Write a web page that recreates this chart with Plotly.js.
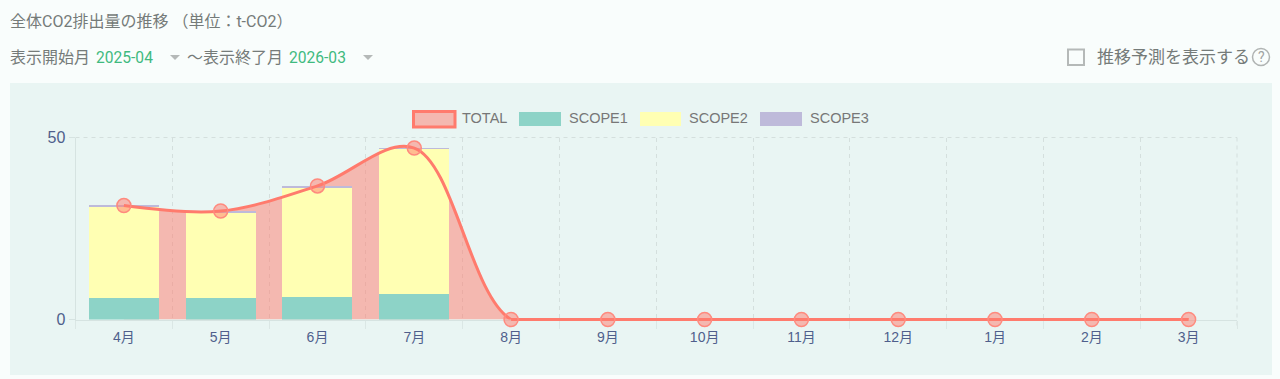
<!DOCTYPE html>
<html><head><meta charset="utf-8">
<script src="https://cdn.plot.ly/plotly-3.0.1.min.js"></script>
<style>html,body{margin:0;padding:0;background:#f9fdfc;overflow:hidden}#c{width:1280px;height:379px}</style>
</head><body><div id="c"></div>
<script>
const months = ['4月','5月','6月','7月','8月','9月','10月','11月','12月','1月','2月','3月'];
const total  = [31.3,29.8,36.7,47.1,0,0,0,0,0,0,0,0];
const scope1 = [5.9,5.8,6.3,6.9,0,0,0,0,0,0,0,0];
const scope2 = [24.9,23.5,29.8,39.9,0,0,0,0,0,0,0,0];
const scope3 = [0.6,0.6,0.7,0.3,0,0,0,0,0,0,0,0];
const legendNames = ['TOTAL','SCOPE1','SCOPE2','SCOPE3'];
const W=1280,H=379;
const px=x=>x/W, py=y=>1-y/H;
const CO='#ff7b6d', AREA='rgba(255,123,109,0.5)';
const C1='#8dd3c7',C2='#ffffb3',C3='#bebada';
const traces=[
 {x:months,y:total,type:'scatter',mode:'none',fill:'tozeroy',fillcolor:AREA,line:{shape:'spline',smoothing:1.0},xaxis:'x',yaxis:'y',name:'TOTAL area',showlegend:false,hoverinfo:'skip'},
 {x:months,y:scope1,type:'bar',marker:{color:C1},name:'SCOPE1',xaxis:'x2',yaxis:'y2',showlegend:false},
 {x:months,y:scope2,type:'bar',marker:{color:C2},name:'SCOPE2',xaxis:'x2',yaxis:'y2',showlegend:false},
 {x:months,y:scope3,type:'bar',marker:{color:C3},name:'SCOPE3',xaxis:'x2',yaxis:'y2',showlegend:false},
 {x:months,y:total,type:'scatter',mode:'lines',line:{shape:'spline',smoothing:1.0,color:CO,width:3},name:'TOTAL',xaxis:'x2',yaxis:'y2',showlegend:false},
 {x:months.slice(4),y:total.slice(4),type:'scatter',mode:'lines',line:{color:CO,width:3},name:'TOTAL flat',xaxis:'x3',yaxis:'y3',showlegend:false},
 {x:months,y:total,type:'scatter',mode:'markers',cliponaxis:false,marker:{size:14,color:'rgba(255,123,109,0.5)',line:{color:'#ff8a7e',width:1.5}},name:'TOTAL points',xaxis:'x3',yaxis:'y3',showlegend:false}
];
const dom=[px(75.5),px(1237)], domY=[py(319.5),py(137.5)];
const tickFont={family:"'Liberation Sans','Noto Sans CJK JP',sans-serif",size:14,color:'#4f5f8c'};
const yTickFont={family:"'Liberation Sans',sans-serif",size:16,color:'#4f5f8c'};
const textFont=(size,color)=>({family:"Roboto,'Noto Sans CJK JP',sans-serif",size,color});
const GRAY='#757b79',GREEN='#3fba7f',GRID='#d4dfdd',DASH='4px,4px';
const txt=(t,x,y,size,color,anchor)=>({text:t,x:px(x),y:py(y),xref:'paper',yref:'paper',xanchor:anchor||'left',yanchor:'middle',showarrow:false,font:textFont(size,color),borderpad:0,borderwidth:0});
const legTxt=(t,x)=>({text:t,x:px(x),y:py(118),xref:'paper',yref:'paper',xanchor:'left',yanchor:'middle',showarrow:false,font:{family:"'Liberation Sans',sans-serif",size:14.5,color:'#777'}});
const rect=(x0,y0,x1,y1,fill,lc,lw,layer)=>({type:'rect',xref:'paper',yref:'paper',x0:px(x0),x1:px(x1),y0:py(y0),y1:py(y1),fillcolor:fill,line:{color:lc||fill,width:lw||0},layer:layer||'above'});
const tri=(x,y)=>({type:'path',xref:'paper',yref:'paper',path:`M${px(x)},${py(y)} L${px(x+10)},${py(y)} L${px(x+5)},${py(y+5)} Z`,fillcolor:'#b5b9b8',line:{width:0}});
const dashLine=(x0,y0,x1,y1)=>({type:'line',xref:'paper',yref:'paper',x0:px(x0),x1:px(x1),y0:py(y0),y1:py(y1),line:{color:GRID,width:1,dash:DASH},layer:'below'});
const layout={
 width:W,height:H,margin:{l:0,r:0,t:0,b:0},paper_bgcolor:'#f9fdfc',plot_bgcolor:'rgba(0,0,0,0)',
 barmode:'stack',bargap:0.277,showlegend:false,hovermode:false,
 xaxis:{domain:dom,type:'category',range:[-0.5,11.5],tickson:'boundaries',ticks:'outside',ticklen:8,tickcolor:'#dbe7e5',showgrid:true,gridcolor:GRID,griddash:DASH,gridwidth:1,showline:true,linecolor:'#d6e3e1',tickfont:tickFont,ticklabelstandoff:5,anchor:'y',zeroline:false},
 yaxis:{domain:domY,range:[0,50],tickvals:[0,50],ticktext:['0','50'],ticks:'outside',ticklen:6,tickcolor:'#d6e3e1',showgrid:true,gridcolor:GRID,griddash:DASH,showline:true,linecolor:'#d6e3e1',tickfont:yTickFont,zeroline:false,anchor:'x'},
 xaxis2:{domain:dom,type:'category',range:[-0.5,11.5],overlaying:'x',visible:false,anchor:'y2'},
 yaxis2:{domain:domY,range:[0,50],overlaying:'y',visible:false,anchor:'x2'},
 xaxis3:{domain:dom,type:'category',range:[-0.5,11.5],visible:false,anchor:'y3',categoryorder:'array',categoryarray:months},
 yaxis3:{domain:[py(325),py(137.5)],range:[-5.5*50/182,50],visible:false,anchor:'x3'},
 shapes:[
  rect(10,83,1272,375,'#e9f5f3',null,0,'below'),
  dashLine(75.5,137.5,1237,137.5),
  dashLine(1237,137.5,1237,328),
  rect(413.5,111.5,455,127,'#f4b8b0',CO,3),
  rect(519,112,561,126,C1),
  rect(640,112,681,126,C2),
  rect(760,112,802,126,C3),
  tri(170,55),tri(363,55),
  rect(1068,49.5,1084,65,'rgba(0,0,0,0)','#b5b9b8',2),
  {type:'circle',xref:'paper',yref:'paper',x0:px(1252.5),x1:px(1269.5),y0:py(48.5),y1:py(65.5),line:{color:'#b0b4b3',width:1.5},fillcolor:'rgba(0,0,0,0)'}
 ],
 annotations:[
  txt('全体CO2排出量の推移 （単位：t-CO2）',10,21,16,GRAY),
  txt('表示開始月',10,58,16,GRAY),
  txt('2025-04',96,58,15.6,GREEN),
  txt('～表示終了月',187,58,16,GRAY),
  txt('2026-03',289,58,15.6,GREEN),
  txt('推移予測を表示する',1097,57,17,GRAY),
  txt('?',1261,57,14,'#a0a4a3','center'),
  legTxt(legendNames[0],460),legTxt(legendNames[1],567),legTxt(legendNames[2],687),legTxt(legendNames[3],808)
 ]
};
Plotly.newPlot('c',traces,layout,{displayModeBar:false,staticPlot:true});
</script></body></html>
